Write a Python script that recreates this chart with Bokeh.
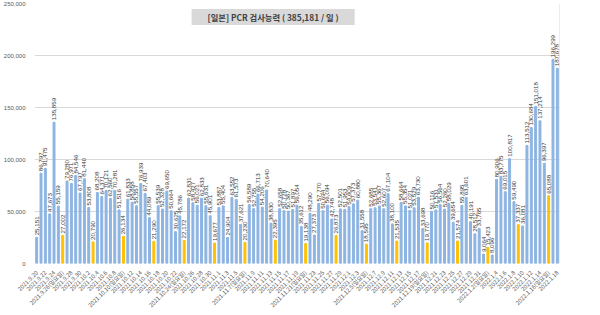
import math
from datetime import date, timedelta
from bokeh.plotting import figure
from bokeh.models import ColumnDataSource, Range1d, FixedTicker, Label, Span, NumeralTickFormatter
from bokeh.core.properties import value
from bokeh.embed import file_html
from bokeh.resources import INLINE

# daily PCR tests, 2021.9.20 .. 2022.1.18
start = date(2021, 9, 20)
n_days = 121
dates = [start + timedelta(days=i) for i in range(n_days)]

tests = [
    25151, 86797, 91475, 47673, 135859, 55159, 27002,
    79280, 76971, 84546, 67797, 81440, 53808, 20790,
    68208, 64371, 70121, 62560, 70281, 51516, 26134,
    61833, 58858, 55557, 76939, 67403, 44089, 21290,
    55539, 52328, 69650, 50664, 30625, 45786, 22172,
    62831, 58427, 56021, 62833, 55631, 45901, 19677,
    53887, 55404, 24904, 63552, 61573, 37621, 20230,
    56589, 52755, 66713, 54206, 70640, 38830, 22395,
    52658, 50728, 50367, 51897, 56054, 35612, 19138,
    48290, 27373, 57770, 50694, 56094, 42748, 26873,
    52501, 51953, 54609, 57373, 60880, 31558, 18595,
    52685, 53541, 55367, 52607, 67104, 38100, 21535,
    58664, 55354, 51021, 53529, 63730, 33698, 19770,
    50116, 51531, 56564, 52260, 58029, 39654, 21574,
    55895, 63601, 40191, 28512, 33765, 9064, 15423,
    8096, 80906, 83775, 69015, 100817, 59490, 37337,
    36081, 113512, 130684, 151018, 137214, 96397, 65088,
    196299, 187678,
]

title_text = "[일본] PCR 검사능력 ( 385,181 / 일 )"
y_ticks = [0, 50000, 100000, 150000, 200000, 250000]


def date_label(d):
    s = f"{d.year}.{d.month}.{d.day}"
    if d.weekday() == 6:
        s += "(일요일)"
    return s


date_labels = [date_label(d) for d in dates]
colors = ["#FFC000" if d.weekday() == 6 else "#8DB4E2" for d in dates]
idx = list(range(n_days))

src = ColumnDataSource(dict(
    x=idx, top=tests, color=colors,
    lab=[f"{v:,}" for v in tests],
))

p = figure(width=600, height=315, output_backend="svg", toolbar_location=None,
           x_range=Range1d(-0.5, n_days - 0.5), y_range=Range1d(0, 250000),
           min_border_left=27, min_border_right=41, min_border_top=3, min_border_bottom=44)
p.outline_line_color = None
p.background_fill_color = "white"

p.vbar(x="x", top="top", width=0.45, color="color", source=src)
p.text(x="x", y="top", text="lab", source=src, angle=math.pi / 2,
       text_align="left", text_baseline="middle", y_offset=-2,
       text_font_size="6.2px", text_color="#404040",
       text_font=value("Liberation Sans"))

# axes
xa = p.xaxis[0]
xa.ticker = FixedTicker(ticks=list(range(0, n_days, 2)))
xa.major_label_overrides = {i: date_labels[i] for i in range(0, n_days, 2)}
xa.major_label_orientation = math.pi / 4
xa.axis_line_color = None
xa.major_tick_line_color = None
xa.minor_tick_line_color = None
xa.major_label_text_font_size = "5.8px"
xa.major_label_text_color = "#595959"
xa.major_label_text_font = "Noto Sans CJK KR"
xa.major_label_standoff = 2

ya = p.yaxis[0]
ya.ticker = FixedTicker(ticks=y_ticks)
ya.formatter = NumeralTickFormatter(format="0,0")
ya.axis_line_color = None
ya.major_tick_line_color = None
ya.minor_tick_line_color = None
ya.major_label_text_font_size = "6px"
ya.major_label_text_color = "#595959"
ya.major_label_text_font = "Liberation Sans"
ya.major_label_standoff = 3

p.xgrid.grid_line_color = None
p.ygrid.grid_line_color = "#D9D9D9"
p.ygrid.grid_line_width = 1

p.add_layout(Span(location=n_days - 0.5, dimension="height", line_color="#D9D9D9", line_width=1))

p.add_layout(Label(x=54.5, y=237000, text=title_text, text_align="center", text_baseline="middle",
                   background_fill_color="#D9D9D9", padding=(16, 2),
                   text_font="Noto Sans CJK KR", text_font_size="8.3px", text_font_style="bold",
                   text_color="#404040"))

open("out.html", "w").write(file_html(p, INLINE))
